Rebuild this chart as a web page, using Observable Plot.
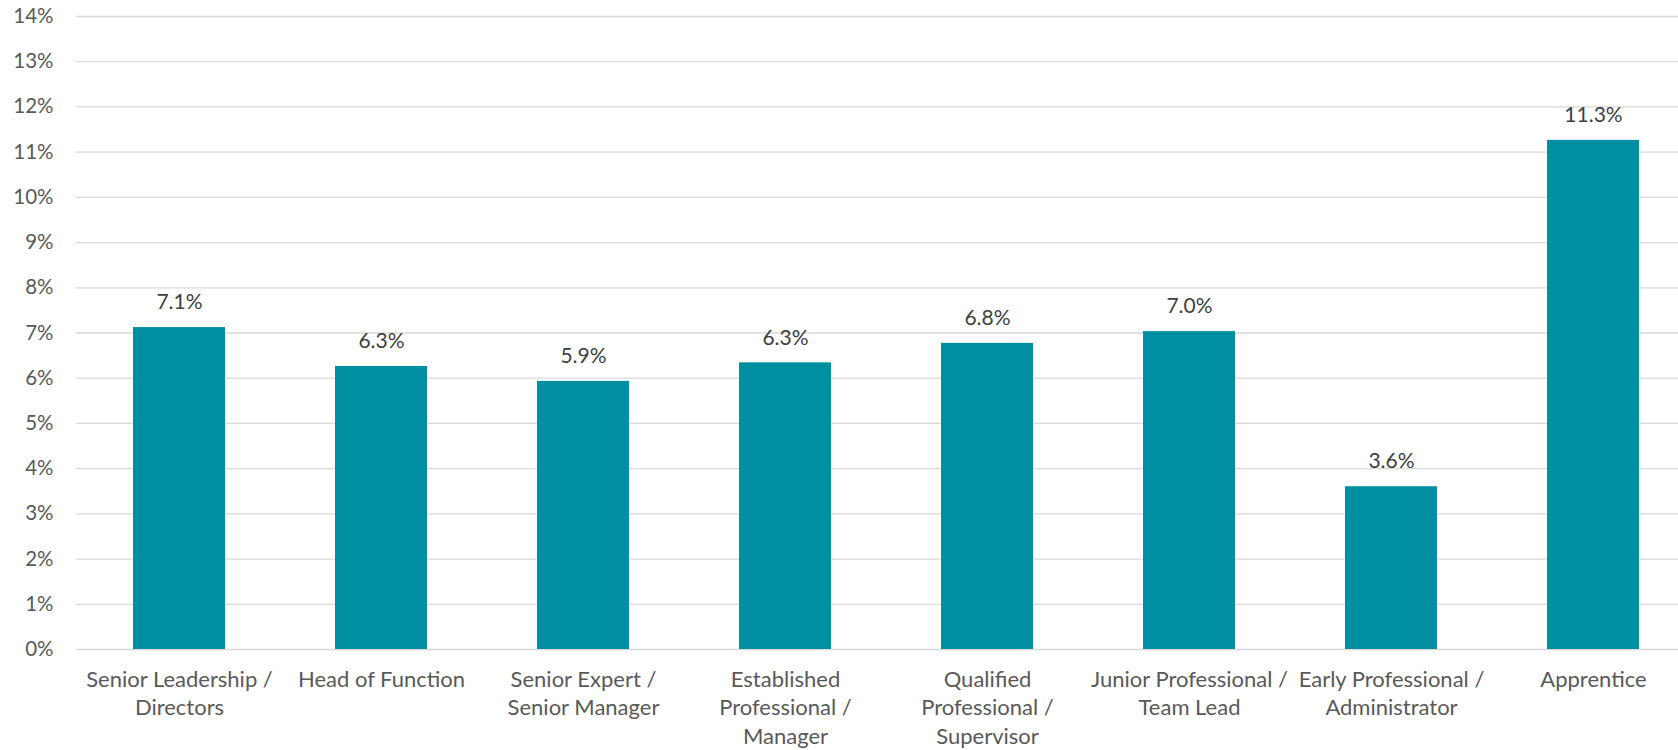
<!DOCTYPE html>
<html>
<head>
<meta charset="utf-8">
<script src="https://cdn.jsdelivr.net/npm/d3@7"></script>
<script src="https://cdn.jsdelivr.net/npm/@observablehq/plot@0.6"></script>
<style>
  html, body { margin: 0; padding: 0; background: #fff; }
  svg { display: block; }
</style>
</head>
<body>
<div id="chart"></div>
<script>
const categories = [
  "Senior Leadership / Directors",
  "Head of Function",
  "Senior Expert / Senior Manager",
  "Established Professional / Manager",
  "Qualified Professional / Supervisor",
  "Junior Professional / Team Lead",
  "Early Professional / Administrator",
  "Apprentice"
];
const tickLabels = [
  "Senior Leadership /\nDirectors",
  "Head of Function",
  "Senior Expert /\nSenior Manager",
  "Established\nProfessional /\nManager",
  "Qualified\nProfessional /\nSupervisor",
  "Junior Professional /\nTeam Lead",
  "Early Professional /\nAdministrator",
  "Apprentice"
];
const values = [7.12, 6.26, 5.93, 6.34, 6.77, 7.03, 3.60, 11.26];
const yTicks = [0, 1, 2, 3, 4, 5, 6, 7, 8, 9, 10, 11, 12, 13, 14];

const data = categories.map((c, i) => ({category: c, value: values[i]}));
const labelOf = new Map(categories.map((c, i) => [c, tickLabels[i]]));

const font = "Lato, 'Open Sans', sans-serif";

const chart = Plot.plot({
  width: 1678,
  height: 750,
  marginTop: 16,
  marginBottom: 101,
  marginLeft: 76,
  marginRight: 0,
  style: {fontFamily: font, background: "#fff"},
  x: {domain: categories, range: [76, 1695], paddingInner: 0.545, paddingOuter: 0.2725, align: 0.5, label: null},
  y: {domain: [0, 14], range: [649, 16], label: null},
  marks: [
    Plot.ruleY(yTicks, {stroke: "#d9d9d9", strokeWidth: 1.3}),
    Plot.barY(data, {x: "category", y: "value", fill: "#008fa1"}),
    Plot.text(data, {
      x: "category", y: "value",
      text: d => d.value.toFixed(1) + "%",
      dy: -25, fontSize: 21, fill: "#404040", fontFamily: font
    }),
    Plot.axisY({
      ticks: yTicks, tickSize: 0, tickPadding: 0, dx: -23,
      tickFormat: d => d + "%", fontSize: 20.5, fill: "#595959", fontFamily: font, textAnchor: "end"
    }),
    Plot.axisX({
      tickSize: 0, tickPadding: 17, tickFormat: d => labelOf.get(d),
      fontSize: 22, lineHeight: 1.3, fill: "#595959", fontFamily: font
    })
  ]
});
document.getElementById("chart").appendChild(chart);
</script>
</body>
</html>
